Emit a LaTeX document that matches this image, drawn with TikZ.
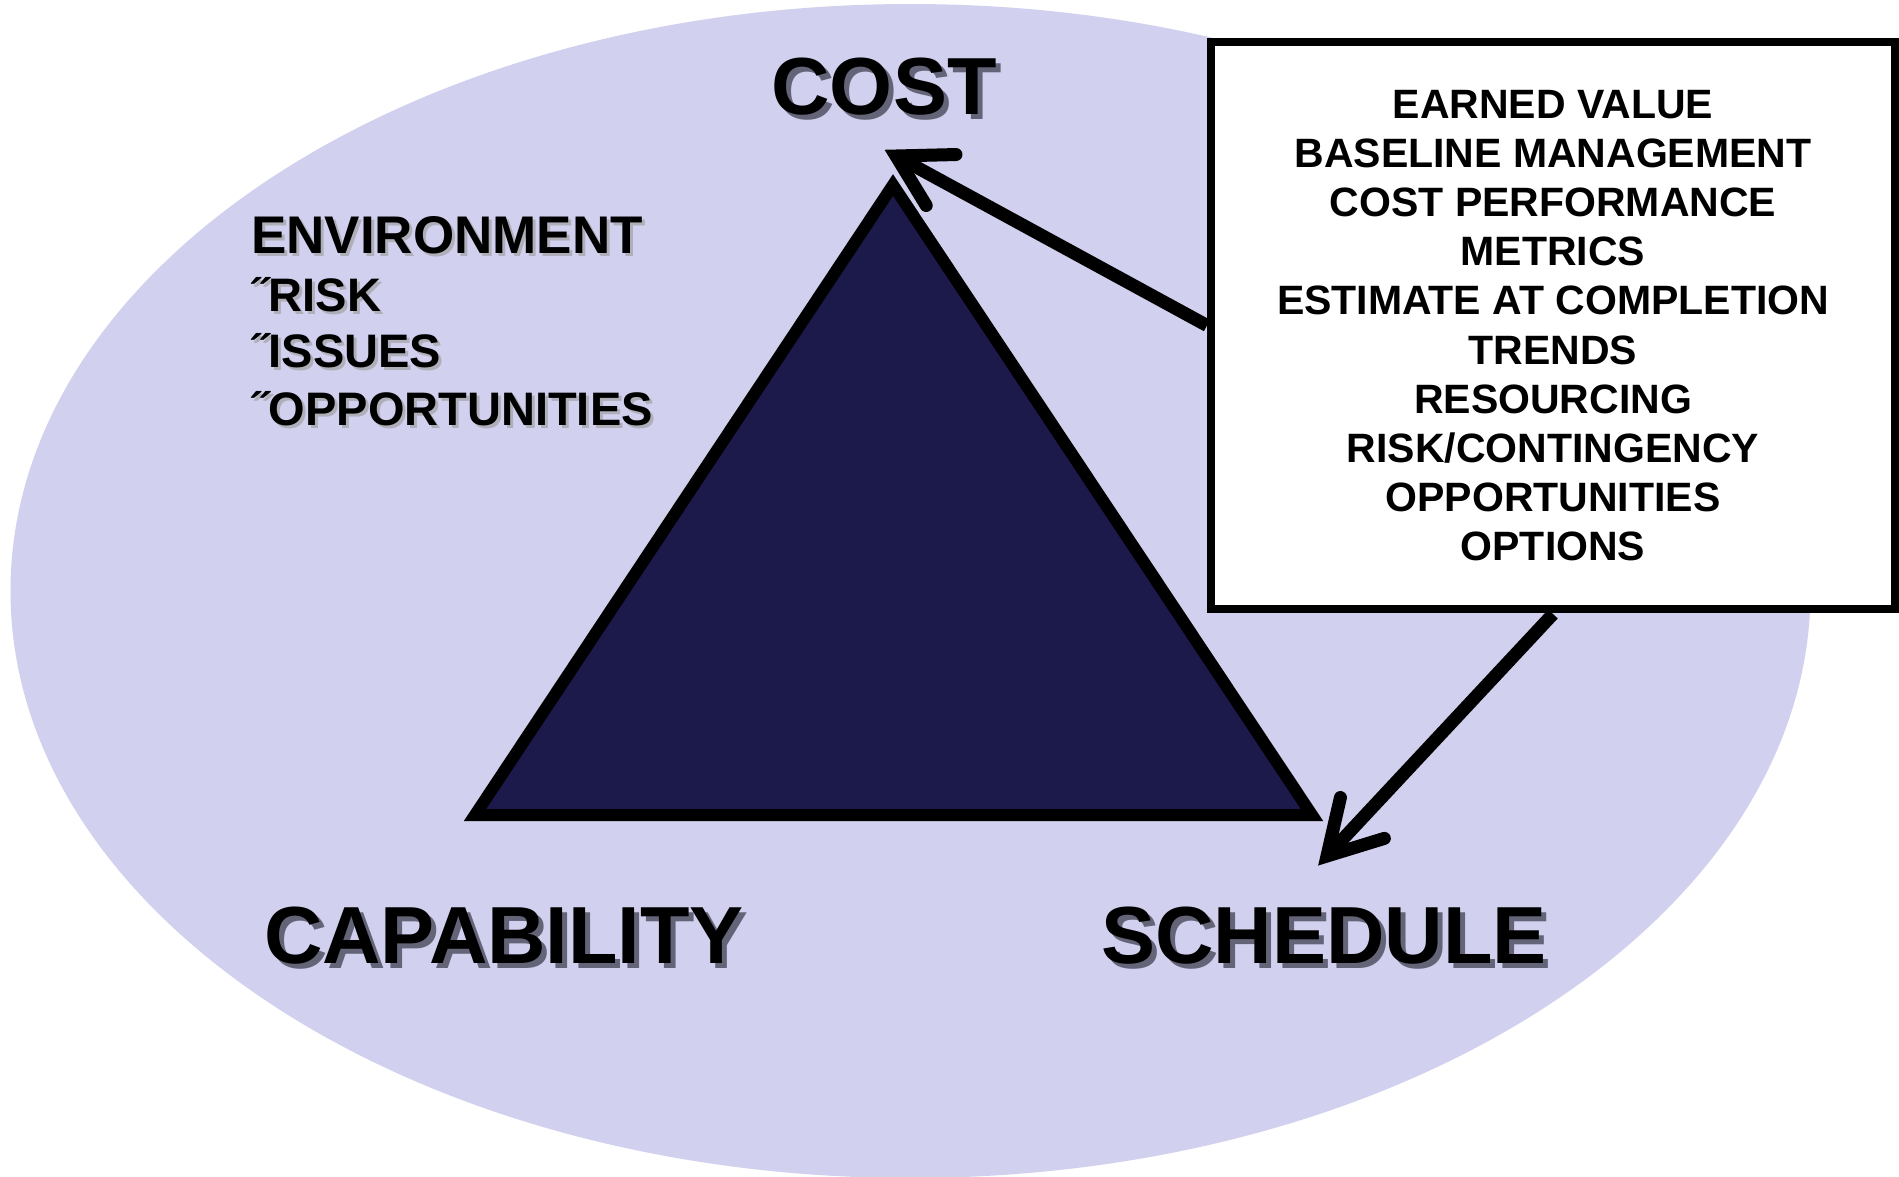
\documentclass[tikz,border=0pt]{standalone}
\usepackage{fontspec}
\setmainfont{Liberation Sans}
\usetikzlibrary{calc}
\definecolor{ellfill}{RGB}{209,209,239}
\definecolor{trifill}{RGB}{28,26,75}
\definecolor{bigshadow}{RGB}{100,100,120}
\definecolor{smallshadow}{RGB}{175,175,185}
\begin{document}
\begin{tikzpicture}[x=1pt,y=-1pt,
  biglabel/.style={font=\fontsize{81}{81}\selectfont\bfseries, inner sep=0pt},
  envhead/.style={font=\fontsize{53}{53}\selectfont\bfseries, inner sep=0pt, anchor=base west},
  envitem/.style={font=\fontsize{47}{47}\selectfont\bfseries, inner sep=0pt, anchor=base west},
  infobox/.style={draw, line width=8pt, fill=white, minimum width=684pt, minimum height=567pt, inner sep=0pt, align=center, font=\fontsize{41}{49.2}\selectfont\bfseries},
  shaft/.style={line width=13pt, line cap=butt},
  barb/.style={line width=13pt, line cap=round, line join=miter},
]
\useasboundingbox (0,0) rectangle (1899,1176);
\fill[white] (0,0) rectangle (1899,1176);
\fill[ellfill] (910.5,591) ellipse [x radius=900pt, y radius=587pt];
\draw[line width=12pt, line join=miter, fill=trifill] (893,185) -- (475,815) -- (1312,815) -- cycle;

\node[infobox] (box) at (1553,325.5) {EARNED VALUE\\BASELINE MANAGEMENT\\COST PERFORMANCE\\METRICS\\ESTIMATE AT COMPLETION\\TRENDS\\RESOURCING\\RISK/CONTINGENCY\\OPPORTUNITIES\\OPTIONS};

\coordinate (costtip) at (896,156);
\coordinate (schedtip) at (1327,856);
\draw[shaft] (box.west) -- (costtip);
\draw[barb] ($(costtip)!60pt!30:(box.west)$) -- (costtip) -- ($(costtip)!58pt!-30:(box.west)$);
\draw[shaft] ($(box.south)+(0,1)$) -- (schedtip);
\draw[barb] ($(schedtip)!60pt!30:(box.south)$) -- (schedtip) -- ($(schedtip)!60pt!-30:(box.south)$);

\node[biglabel, text=bigshadow] (costsh) at (889,92) {COST};
\node[biglabel] (cost) at (884,87) {COST};
\node[biglabel, text=bigshadow] (capsh) at (509,941) {CAPABILITY};
\node[biglabel] (cap) at (504,936) {CAPABILITY};
\node[biglabel, text=bigshadow] (schsh) at (1329,941) {SCHEDULE};
\node[biglabel] (sch) at (1324,936) {SCHEDULE};

\node[envhead, text=smallshadow] (env0sh) at (254,256) {ENVIRONMENT};
\node[envhead] (env0) at (251,253) {ENVIRONMENT};
\node[envitem, text=smallshadow] (env1sh) at (256,314.5) {˝RISK};
\node[envitem] (env1) at (253,311.5) {˝RISK};
\node[envitem, text=smallshadow] (env2sh) at (256,370.5) {˝ISSUES};
\node[envitem] (env2) at (253,367.5) {˝ISSUES};
\node[envitem, text=smallshadow] (env3sh) at (256,428.5) {˝OPPORTUNITIES};
\node[envitem] (env3) at (253,425.5) {˝OPPORTUNITIES};
\end{tikzpicture}
\end{document}
